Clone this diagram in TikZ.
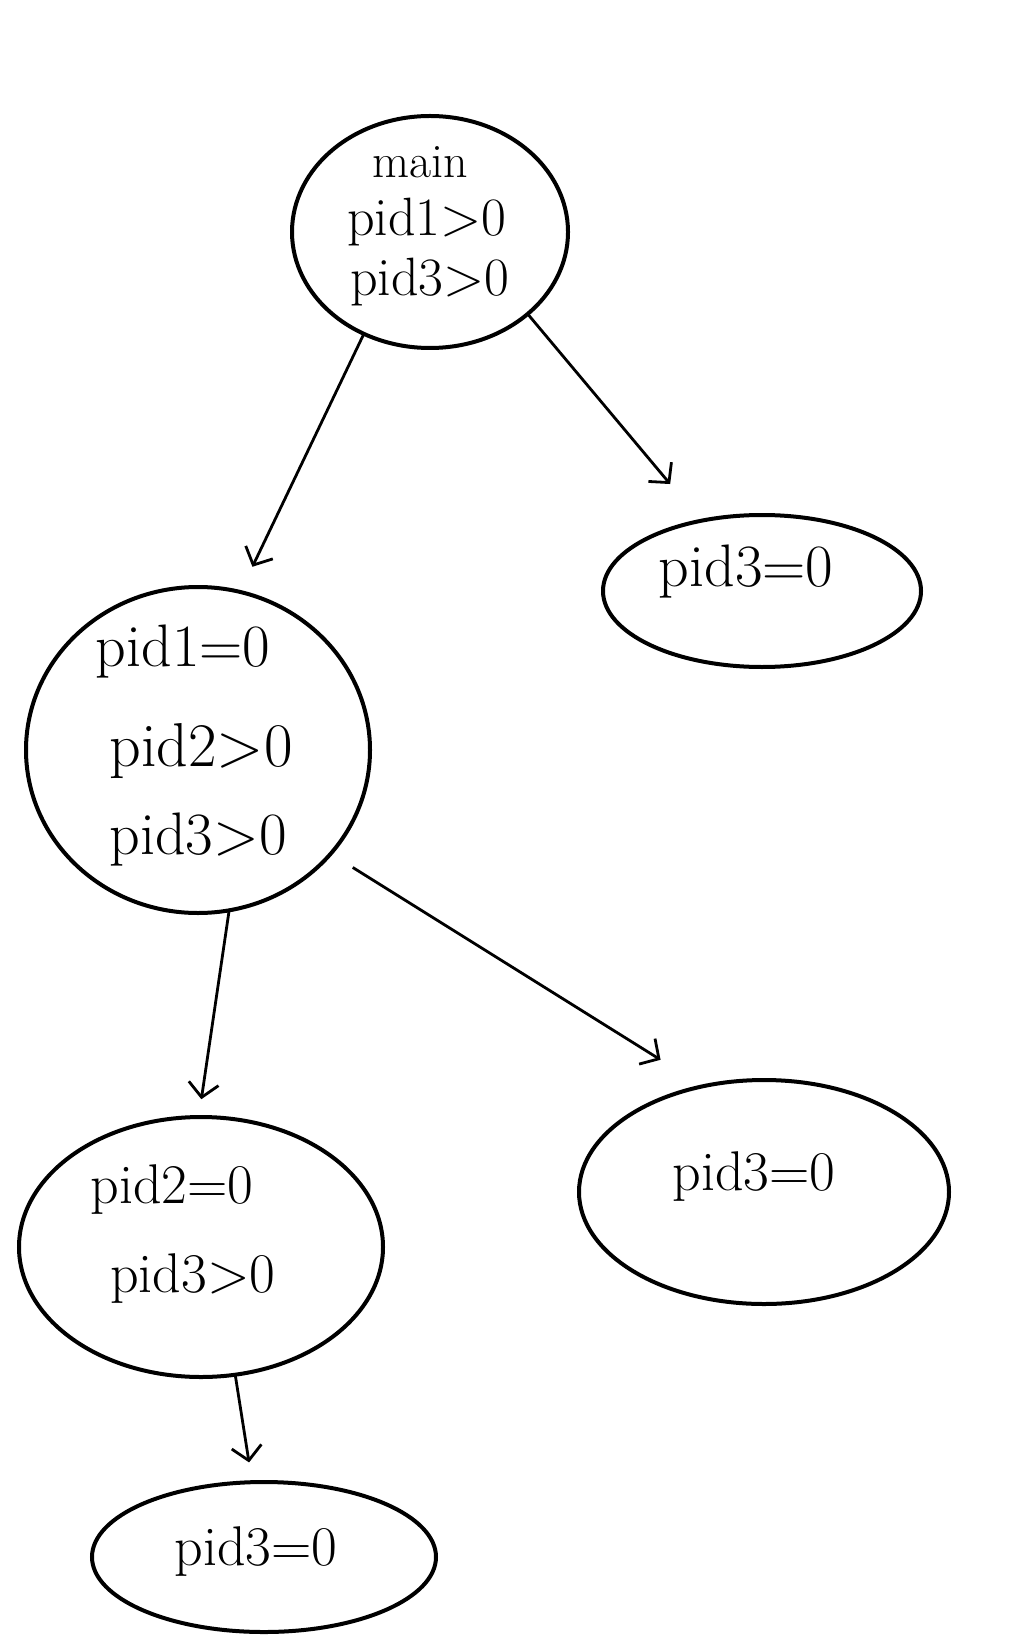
\documentclass[tikz,border=0pt]{standalone}
\usetikzlibrary{shapes.geometric,arrows.meta}
\begin{document}
\begin{tikzpicture}[x=0.5pt,y=-0.5pt,
  proc/.style={draw=black,line width=2pt,ellipse,outer sep=0pt,inner sep=0pt},
  lbl/.style={font=\fontsize{28}{34}\selectfont,inner sep=0pt},
  conn/.style={draw=black,line width=1.4pt,-{Straight Barb[length=7pt,width=15pt,line width=1.4pt]}}]
\fill[white] (0,0) rectangle (1026,1636);
\useasboundingbox (0,0) rectangle (1026,1636);
% process ellipses
\node[proc,minimum width=138pt,minimum height=116pt] (main) at (430,232) {};
\node[proc,minimum width=159pt,minimum height=76pt] (c3a) at (762,591) {};
\node[proc,minimum width=172pt,minimum height=163pt] (c1) at (198,750) {};
\node[proc,minimum width=185pt,minimum height=112pt] (c3b) at (764,1192) {};
\node[proc,minimum width=182pt,minimum height=130pt] (c2) at (201,1247) {};
\node[proc,minimum width=172pt,minimum height=75pt] (c3c) at (264,1557) {};
% texts
\node[lbl,font=\fontsize{24}{28}\selectfont] (tmain) at (420,162) {main};
\node[lbl,font=\fontsize{27}{32}\selectfont] (t1) at (427,222) {pid1>0};
\node[lbl,font=\fontsize{27}{32}\selectfont] (t2) at (430,282) {pid3>0};
\node[lbl,font=\fontsize{30}{36}\selectfont] (t3) at (746,572) {pid3=0};
\node[lbl,font=\fontsize{30}{36}\selectfont] (t4) at (183,652) {pid1=0};
\node[lbl,font=\fontsize{31}{36}\selectfont] (t5) at (201,751) {pid2>0};
\node[lbl,font=\fontsize{30}{36}\selectfont] (t6) at (198,840) {pid3>0};
\node[lbl,font=\fontsize{28}{34}\selectfont] (t7) at (754,1177) {pid3=0};
\node[lbl,font=\fontsize{28}{34}\selectfont] (t8) at (172,1190) {pid2=0};
\node[lbl,font=\fontsize{28}{34}\selectfont] (t9) at (193,1279) {pid3>0};
\node[lbl,font=\fontsize{28}{34}\selectfont] (t10) at (256,1552) {pid3=0};
% connectors
\draw[conn,shorten >=14pt] (main.237) -- (c1.75);
\draw[conn,shorten >=24pt] (main.320) -- (c3a.131);
\draw[conn,shorten <=13pt,shorten >=25pt] (c1.322) -- (c3b.120);
\draw[conn,shorten >=9pt] (c1.281) -- (c2.91);
\draw[conn,shorten >=10pt] (c2.285) -- (c3c.99);
\end{tikzpicture}
\end{document}
